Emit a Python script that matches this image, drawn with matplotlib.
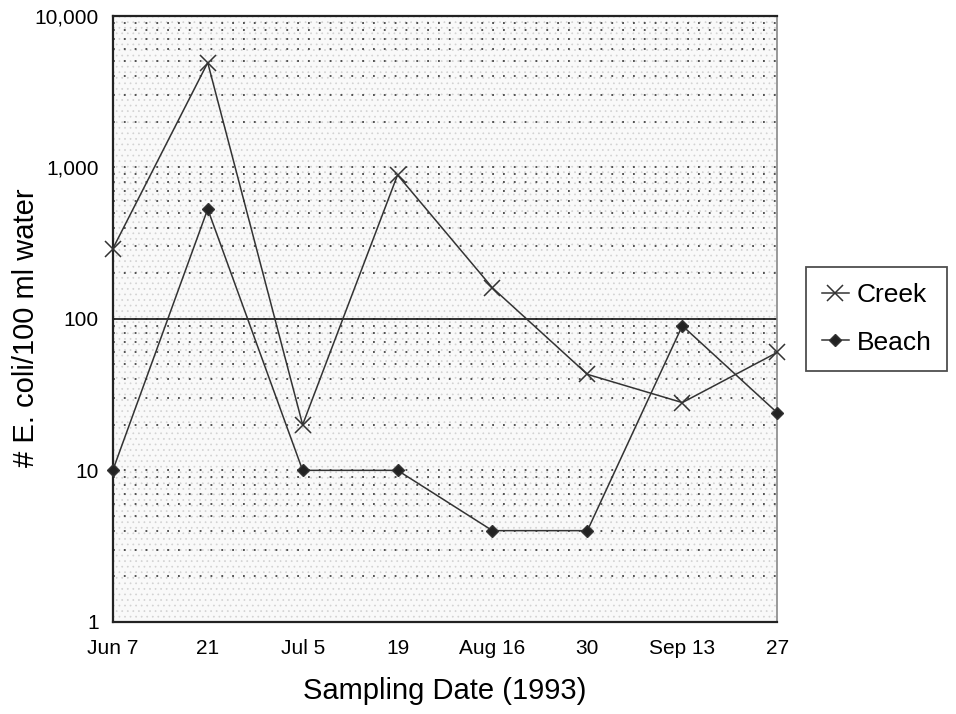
import matplotlib.pyplot as plt
import matplotlib.ticker as mticker
from matplotlib.patches import Rectangle
import numpy as np

# sampling dates (1993) and E. coli counts per 100 ml
dates = ['Jun 7', '21', 'Jul 5', '19', 'Aug 16', '30', 'Sep 13', '27']
creek = [290, 4900, 20, 890, 160, 43, 28, 60]
beach = [10, 530, 10, 10, 4, 4, 90, 24]
limit = 100

plt.rcParams['font.family'] = ['Liberation Sans', 'DejaVu Sans']
plt.rcParams['hatch.linewidth'] = 0.5

fig = plt.figure(figsize=(9.56, 7.14), dpi=100)
ax = fig.add_axes([0.118, 0.129, 0.695, 0.849])

x = np.arange(len(dates))

# stippled grey background
ax.set_facecolor('#f9f9f9')
ax.add_patch(Rectangle((0, 0), 1, 1, transform=ax.transAxes, facecolor='none',
                       edgecolor='#d2d2d2', hatch='...', linewidth=0, zorder=0))

ax.set_yscale('log')
ax.set_ylim(1, 10000)
ax.set_xlim(0, len(dates) - 1)

# dotted grid on the minor decades
ax.yaxis.set_minor_locator(mticker.LogLocator(base=10, subs=np.arange(2, 10)))
ax.yaxis.set_minor_formatter(mticker.NullFormatter())
ax.grid(True, which='both', axis='y', color='#444444', linestyle=(0, (1, 5)), linewidth=1.3)

ax.axhline(limit, color='#222222', linewidth=1.3, zorder=2)

ax.plot(x, creek, color='#333333', linewidth=1.1, marker='x', markersize=12,
        markeredgewidth=1.1, label='Creek', zorder=3, clip_on=False)
ax.plot(x, beach, color='#333333', linewidth=1.1, marker='D', markersize=6,
        markerfacecolor='#222222', label='Beach', zorder=3, clip_on=False)

ax.set_xticks(x)
ax.set_xticklabels(dates, fontsize=15)
ax.set_yticks([1, 10, 100, 1000, 10000])
ax.set_yticklabels(['1', '10', '100', '1,000', '10,000'], fontsize=15)
ax.tick_params(which='both', length=0)
ax.tick_params(axis='x', pad=12)
ax.tick_params(axis='y', pad=10)

for s in ['top', 'left', 'bottom']:
    ax.spines[s].set_linewidth(1.6)
    ax.spines[s].set_color('#222222')
ax.spines['right'].set_color('#888888')
ax.spines['right'].set_linewidth(1.2)

ax.set_xlabel('Sampling Date (1993)', fontsize=21, labelpad=14)
ax.set_ylabel('# E. coli/100 ml water', fontsize=21)
ax.yaxis.set_label_coords(-0.11, 0.485)

leg = ax.legend(loc='center left', bbox_to_anchor=(1.024, 0.50), fontsize=19,
                frameon=True, fancybox=False, edgecolor='#222222',
                handlelength=1.0, handletextpad=0.3, borderpad=0.6, labelspacing=0.9)
leg.get_frame().set_linewidth(1.3)

fig.savefig('out.png', dpi=100)
